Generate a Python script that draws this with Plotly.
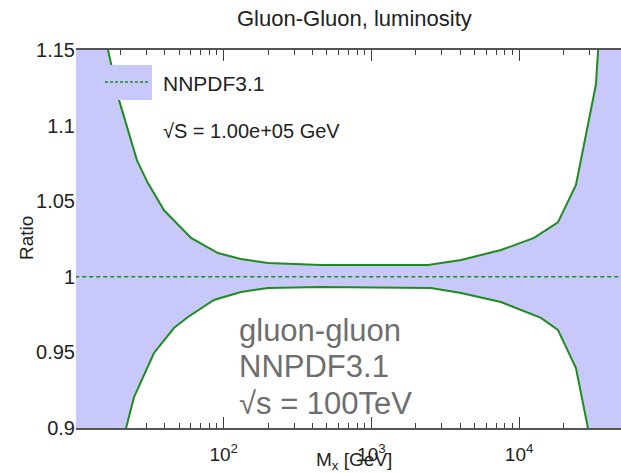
import plotly.graph_objects as go

# ---- data ----
# upper edge of the NNPDF3.1 gluon-gluon luminosity uncertainty band (log10 of M_X in GeV, ratio)
upper_logm = [0.90, 1.217, 1.291, 1.413, 1.487, 1.596, 1.779, 1.961, 2.117, 2.30, 2.659,
              3.017, 3.383, 3.607, 3.877, 4.101, 4.263, 4.385, 4.419, 4.52, 4.535, 4.80]
upper_ratio = [1.40, 1.150, 1.117, 1.077, 1.062, 1.044, 1.0257, 1.0157, 1.0118, 1.0091, 1.0078,
               1.0078, 1.0078, 1.0111, 1.0177, 1.0257, 1.036, 1.0607, 1.077, 1.127, 1.150, 1.40]
# lower edge
lower_logm = [0.90, 1.339, 1.393, 1.528, 1.663, 1.758, 1.934, 2.117, 2.30, 2.659,
              3.403, 3.607, 3.877, 4.148, 4.263, 4.385, 4.466, 4.80]
lower_ratio = [0.70, 0.900, 0.9205, 0.9496, 0.9661, 0.9734, 0.9847, 0.9899, 0.9926, 0.9933,
               0.9926, 0.9893, 0.9833, 0.9728, 0.9649, 0.9397, 0.900, 0.70]
central_ratio = 1.0

y_tickvals = [0.9, 0.95, 1.0, 1.05, 1.1, 1.15]
y_ticktext = ["0.9", "0.95", "1", "1.05", "1.1", "1.15"]
x_major = [100, 1000, 10000]
x_major_text = ["10<sup>2</sup>", "10<sup>3</sup>", "10<sup>4</sup>"]
x_minor = [m * d for d in (10, 100, 1000, 10000) for m in range(2, 10) if m * d < 45000]

# ---- derived ----
upper_m = [10 ** v for v in upper_logm]
lower_m = [10 ** v for v in lower_logm]
band_x = upper_m + lower_m[::-1]
band_y = upper_ratio + lower_ratio[::-1]
central_x = upper_m
central_y = [central_ratio] * len(upper_m)

FILL = "#c8c8fa"
GREEN = "#1e8c1e"
AXIS = "#3c3c3c"
FONT = "Liberation Sans"

fig = go.Figure()
fig.add_trace(go.Scatter(x=band_x, y=band_y, fill="toself", fillcolor=FILL,
                         line=dict(width=0), mode="lines", hoverinfo="skip", showlegend=False))
fig.add_trace(go.Scatter(x=upper_m, y=upper_ratio, mode="lines",
                         line=dict(color=GREEN, width=2), showlegend=False))
fig.add_trace(go.Scatter(x=lower_m, y=lower_ratio, mode="lines",
                         line=dict(color=GREEN, width=2), showlegend=False))
fig.add_trace(go.Scatter(x=central_x, y=central_y, mode="lines",
                         line=dict(color=GREEN, width=1.5, dash="4px,3px"), showlegend=False))

W, H = 621, 473
L, R, T, B = 76, 0, 50, 45
pw, ph = W - L - R, H - T - B


def px(xp):
    return (xp - L) / pw


def py(yp):
    return (H - B - yp) / ph


fig.update_layout(
    width=W, height=H,
    margin=dict(l=L, r=R, t=T, b=B),
    plot_bgcolor="white", paper_bgcolor="white",
    font=dict(family=FONT, color="#222", size=20),
    showlegend=False,
    xaxis=dict(type="log", range=[1.0, 4.69], tickmode="array", tickvals=x_major,
               ticktext=x_major_text, ticks="inside", ticklen=11, tickwidth=1.3, tickcolor=AXIS,
               showline=True, linecolor="#555555", linewidth=1.5, mirror="ticks",
               showgrid=False, zeroline=False, layer="below traces",
               tickfont=dict(size=19), ticklabelstandoff=8,
               minor=dict(tickmode="array", tickvals=x_minor, ticks="inside", ticklen=5,
                          tickwidth=1.3, tickcolor=AXIS, showgrid=False)),
    yaxis=dict(range=[0.9, 1.15], tickmode="array", tickvals=y_tickvals, ticktext=y_ticktext,
               ticks="", showline=False, showgrid=False, zeroline=False,
               tickfont=dict(size=20)),
)

# legend box
fig.add_shape(type="rect", xref="paper", yref="paper", x0=px(76), x1=px(152), y0=py(100), y1=py(65),
              fillcolor=FILL, line=dict(width=0), layer="above")
fig.add_shape(type="line", xref="paper", yref="paper", x0=px(105), x1=px(150), y0=py(82), y1=py(82),
              line=dict(color=GREEN, width=1.5, dash="3px,2px"), layer="above")

ann = [
    dict(text="NNPDF3.1", x=px(161), y=py(83), xanchor="left", yanchor="middle", font=dict(size=21)),
    dict(text="√S = 1.00e+05 GeV", x=px(161), y=py(131), xanchor="left", yanchor="middle", font=dict(size=20)),
    dict(text="Gluon-Gluon, luminosity", x=px(354), y=py(19), xanchor="center", yanchor="middle", font=dict(size=22)),
    dict(text="Ratio", x=px(26), y=py(238), xanchor="center", yanchor="middle", textangle=-90, font=dict(size=19)),
    dict(text="M<sub>x</sub> [GeV]", x=px(354), y=py(461), xanchor="center", yanchor="middle", font=dict(size=19)),
    dict(text="gluon-gluon", x=px(237), y=py(330), xanchor="left", yanchor="middle", font=dict(size=31, color="#6e6e6e")),
    dict(text="NNPDF3.1", x=px(237), y=py(366), xanchor="left", yanchor="middle", font=dict(size=31, color="#6e6e6e")),
    dict(text="√s = 100TeV", x=px(237), y=py(403), xanchor="left", yanchor="middle", font=dict(size=31, color="#6e6e6e")),
]
for a in ann:
    fig.add_annotation(xref="paper", yref="paper", showarrow=False, **a)

fig.write_html("out.html")
